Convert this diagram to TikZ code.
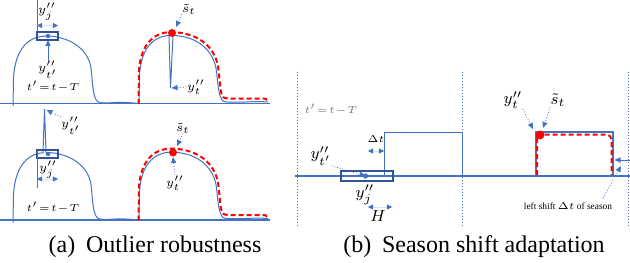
\documentclass[tikz,border=0pt]{standalone}
\usepackage{fontspec}
\setmainfont{Liberation Serif}
\usetikzlibrary{arrows.meta}
\definecolor{lineblue}{RGB}{68,114,196}
\definecolor{boxblue}{RGB}{47,85,151}
\definecolor{seasred}{RGB}{255,0,0}

\begin{document}
\begin{tikzpicture}[
  x=0.5pt, y=-0.5pt,
  curve/.style={draw=lineblue, line width=0.5pt},
  axis/.style={draw=lineblue, line width=0.6pt},
  fit red/.style={draw=seasred, line width=1pt, dash pattern=on 2.5pt off 1.5pt},
  winbox/.style={draw=boxblue, line width=0.6pt},
  guide/.style={draw=lineblue, densely dotted, line width=0.5pt},
  ptr/.style={draw=lineblue, densely dotted, line width=0.4pt, -{Triangle[length=3pt,width=2.6pt]}},
  solidptr/.style={draw=lineblue, line width=0.5pt, -{Triangle[length=3pt,width=2.6pt]}},
  span/.style={draw=lineblue!20, line width=0.3pt, {Triangle[length=2.6pt,width=2.6pt,color=lineblue]}-{Triangle[length=2.6pt,width=2.6pt,color=lineblue]}},
  lbl/.style={inner sep=0pt, font=\fontsize{6}{7}\selectfont},
  shiftlbl/.style={inner sep=0pt, font=\fontsize{5.5}{6}\selectfont},
  biglbl/.style={inner sep=0pt, font=\fontsize{8.5}{9}\selectfont},
  tinylbl/.style={inner sep=0pt, font=\fontsize{4.7}{6}\selectfont},
  captxt/.style={inner sep=0pt, font=\fontsize{12}{14}\selectfont},
]
\useasboundingbox (0,0) rectangle (630,262);

% (a) upper row: spike inside the season
\draw[axis] (0,103.5) -- (270,103.5);
\draw[curve] (13,106) -- (13.5,78) .. controls (15,52) and (26,37.5) .. (43,36.3) -- (46,36)
  .. controls (68,36) and (88,48) .. (91,68) .. controls (92.5,80) and (92.5,96) .. (97,101)
  .. controls (99,103) and (102,103) .. (110,102.8) .. controls (120,102) and (130,102.5) .. (139,103.5);
\draw[curve] (139,103.5) -- (139.5,75) .. controls (141,50) and (152,36.5) .. (169,35.5) -- (170.5,88) -- (173,35.5)
  .. controls (195,36) and (212,48) .. (216,68) .. controls (218,82) and (218,96) .. (223,101)
  .. controls (226,103) and (235,102) .. (245,102) .. controls (255,101.5) and (262,101.5) .. (268,102);
\draw[fit red] (138.5,104) -- (139,70) .. controls (141,45) and (153,32) .. (172,32)
  .. controls (198,33) and (214,46) .. (218,66) .. controls (220,80) and (220,94) .. (223,97)
  .. controls (225,99) and (230,98.5) .. (240,98.5) -- (262,98.5) .. controls (266,98.5) and (267,99) .. (267,101);
\draw[winbox] (37,32) rectangle (58,40);
\draw[curve] (37,0) -- (37,32);
\draw[span] (37,25.5) -- (58,25.5);
\coordinate (u-pt) at (48,36);
\coordinate (u-ptend) at (48,40);
\fill[lineblue] (u-pt) circle (1.1pt);
\node[lbl] (u-yj) at (47,12) {$y''_j$};
\node[lbl] (u-ytp) at (48,70) {$y''_{t'}$};
\draw[solidptr] (u-ytp.north) -- (u-ptend);
\node[shiftlbl] (u-tt) at (53,87) {$t'\!=\!t\!-\!T$};
\coordinate (u-st) at (172,33);
\coordinate (u-sttip) at (176,27);
\coordinate (u-spike) at (171.5,88);
\fill[seasred] (u-st) circle (2pt);
\node[lbl] (u-stl) at (189,9) {$\tilde{s}_t$};
\draw[ptr] (u-stl.south west) -- (u-sttip);
\node[lbl] (u-ytl) at (196,87) {$y''_t$};
\draw[ptr] (u-ytl.west) -- (u-spike);

% (a) lower row: spike at the history window
\draw[axis, line width=1.1pt] (0,220) -- (270,220);
\begin{scope}[shift={(0,116.5)}]
\draw[curve] (13,106) -- (13.5,78) .. controls (15,52) and (26,37.5) .. (43,36.3) -- (44.5,-7.5) -- (46,36)
  .. controls (68,36) and (88,48) .. (91,68) .. controls (92.5,80) and (92.5,96) .. (97,101)
  .. controls (99,103) and (102,103) .. (110,102.8) .. controls (120,102) and (130,102.5) .. (139,103.5);
\draw[curve] (139,103.5) -- (139.5,75) .. controls (141,50) and (152,36.5) .. (171,35.5)
  .. controls (195,36) and (212,48) .. (216,68) .. controls (218,82) and (218,96) .. (223,101)
  .. controls (226,103) and (235,102) .. (245,102) .. controls (255,101.5) and (262,101.5) .. (268,102);
\draw[fit red] (138.5,104) -- (139,70) .. controls (141,45) and (153,32) .. (172,32)
  .. controls (198,33) and (214,46) .. (218,66) .. controls (220,80) and (220,94) .. (223,97)
  .. controls (225,99) and (230,98.5) .. (240,98.5) -- (262,98.5) .. controls (266,98.5) and (267,99) .. (267,101);
\end{scope}
\draw[winbox] (37,150) rectangle (58,158);
\draw[curve] (37,150) -- (37,188);
\draw[span] (37,179) -- (58,179);
\fill[lineblue] (48,154) circle (1.1pt);
\node[lbl] (d-yj) at (48,170) {$y''_j$};
\node[lbl] (d-ytp) at (71,126) {$y''_{t'}$};
\coordinate (d-spike) at (46.5,110);
\draw[ptr] (d-ytp.north west) -- (d-spike);
\node[shiftlbl] (d-tt) at (53,208) {$t'\!=\!t\!-\!T$};
\coordinate (d-st) at (173,152.5);
\coordinate (d-sttip) at (177,146);
\coordinate (d-stbot) at (173,157);
\fill[seasred] (d-st) circle (2pt);
\node[lbl] (d-stl) at (183,128) {$\tilde{s}_t$};
\draw[ptr] (d-stl.south) -- (d-sttip);
\node[lbl] (d-ytl) at (175,183) {$y''_t$};
\draw[ptr] (d-ytl.north) -- (d-stbot);

% (b) season shift
\foreach \gx in {297,462,628}
  \draw[guide] (\gx,72) -- (\gx,226);
\draw[axis] (295,176) -- (630,176);
\node[shiftlbl, text=black!55] (r-tt) at (331,110) {$t'\!=\!t\!-\!T$};
\draw[curve] (384,176) -- (384,132) -- (462,132) -- (462,176);
\node[tinylbl] (r-dt) at (376,139) {$\Delta t$};
\draw[span] (368,151) -- (384,151);
\draw[winbox] (341,171) rectangle (393,181);
\coordinate (r-pt) at (365.5,176);
\fill[lineblue] (r-pt) circle (1.3pt);
\node[biglbl] (r-ytp) at (321,156) {$y''_{t'}$};
\draw[ptr] (r-ytp.south east) -- (r-pt);
\node[biglbl] (r-yj) at (365,195) {$y''_j$};
\draw[span] (368,207) -- (392,207);
\node[biglbl] (r-h) at (378,216) {$H$};
\draw[curve, line width=1pt] (536,176) -- (536,132) -- (613,132) -- (613,176);
\draw[fit red] (537,175) -- (537,134.5) -- (605,134.5) .. controls (610,134.5) and (611.5,137) .. (611.5,142) -- (611.5,175);
\coordinate (r-st) at (540,135);
\coordinate (r-yttip) at (533,129);
\coordinate (r-sttip) at (543,128);
\fill[seasred] (r-st) circle (2.2pt);
\node[biglbl] (r-ytl) at (513,100) {$y''_t$};
\node[biglbl] (r-stl) at (558,100) {$\tilde{s}_t$};
\draw[ptr] (r-ytl.south east) -- (r-yttip);
\draw[ptr] (r-stl.south west) -- (r-sttip);
\coordinate (r-next) at (630,160);
\coordinate (r-edge) at (614.5,160);
\draw[solidptr] (r-next) -- (r-edge);
\node[tinylbl] (r-shift) at (568,206) {left shift $\Delta t$ of season};
\coordinate (r-from) at (603,198);
\coordinate (r-to) at (621,166);
\draw[ptr] (r-from) -- (r-to);

% captions
\node[captxt] (capa) at (155,247) {(a)\hspace{0.45em}Outlier robustness};
\node[captxt] (capb) at (474,247) {(b)\hspace{0.45em}Season shift adaptation};
\end{tikzpicture}
\end{document}
